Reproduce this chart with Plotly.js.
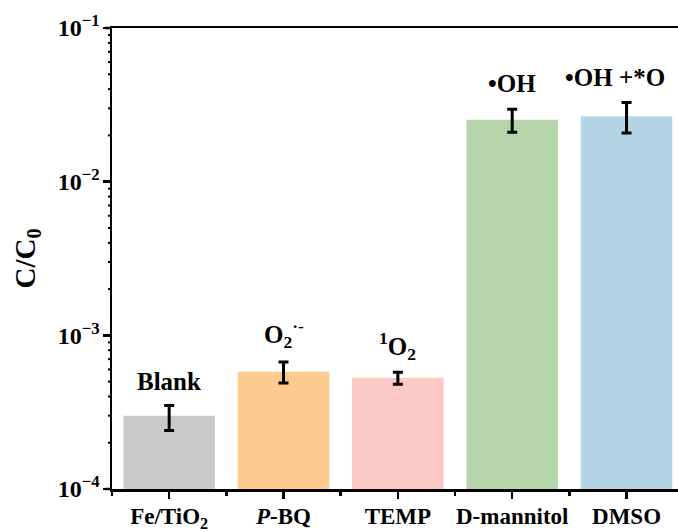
<!DOCTYPE html>
<html>
<head>
<meta charset="utf-8">
<script src="https://cdn.plot.ly/plotly-3.0.1.min.js"></script>
<style>
  html, body { margin: 0; padding: 0; background: #ffffff; }
  #chart { width: 678px; height: 532px; }
</style>
</head>
<body>
<div id="chart"></div>
<script>
// Scavenger experiments: residual C/C0 for each quencher
const categories = ['Fe/TiO<sub>2</sub>', '<i>P</i>-BQ', 'TEMP', 'D-mannitol', 'DMSO'];
const values = [3.0e-4, 5.8e-4, 5.3e-4, 0.0253, 0.0267];
const errPlus = [0.5e-4, 0.9e-4, 0.45e-4, 0.0043, 0.006];
const errMinus = [0.6e-4, 0.9e-4, 0.5e-4, 0.0043, 0.006];
const barColors = ['#c9c9c9', '#fdcb8f', '#fdc9c4', '#b4d6aa', '#b3d5e6'];
const speciesLabels = ['Blank', 'O<sub>2</sub><sup>·-</sup>', '<sup>1</sup>O<sub>2</sub>', '•OH', '•OH +*O'];
const yTickVals = [1e-4, 1e-3, 1e-2, 1e-1];
const yTickText = ['10<sup>−4</sup>', '10<sup>−3</sup>', '10<sup>−2</sup>', '10<sup>−1</sup>'];
const yLogRange = [-4, -1];

const xIdx = categories.map((_, i) => i);
const font = 'Liberation Serif, Times New Roman, serif';

// minor log positions 2..9 inside each decade
const minorVals = [];
for (let d = yLogRange[0]; d < yLogRange[1]; d++) {
  for (let m = 2; m <= 9; m++) minorVals.push(m * Math.pow(10, d));
}

const bars = {
  type: 'bar',
  x: xIdx,
  y: values,
  width: 0.8,
  marker: { color: barColors, line: { width: 0 } },
  error_y: {
    type: 'data',
    symmetric: false,
    array: errPlus,
    arrayminus: errMinus,
    color: '#000000',
    thickness: 3,
    width: 5
  },
  hoverinfo: 'none'
};

// species labels sit just above each error bar
const labelShift = [8, 8, 6, 10, 10];
const annotations = speciesLabels.map((t, i) => ({
  x: i + (i === 4 ? -0.1 : 0),
  y: Math.log10(values[i] + errPlus[i]),
  xref: 'x', yref: 'y',
  text: '<b>' + t + '</b>',
  showarrow: false,
  yanchor: 'bottom',
  yshift: labelShift[i],
  font: { family: font, size: 25, color: '#000000' }
}));

// outward tick marks on the left spine: value -> fraction of the log axis
function axisFrac(v) {
  return (Math.log10(v) - yLogRange[0]) / (yLogRange[1] - yLogRange[0]);
}
function spineTick(v, len, w) {
  const f = axisFrac(v);
  return {
    type: 'line',
    xref: 'paper', xsizemode: 'pixel', xanchor: 0,
    x0: -len, x1: 0,
    yref: 'paper', y0: f, y1: f,
    line: { color: '#000000', width: w }
  };
}
const shapes = yTickVals.map(v => spineTick(v, 7, 2.5))
  .concat(minorVals.map(v => spineTick(v, 4, 2)));

const layout = {
  width: 678,
  height: 532,
  margin: { l: 112, r: 0, t: 28, b: 43 },
  paper_bgcolor: '#ffffff',
  plot_bgcolor: '#ffffff',
  showlegend: false,
  font: { family: font, color: '#000000' },
  xaxis: {
    type: 'linear',
    range: [-0.5, 4.45],
    tickmode: 'array',
    tickvals: xIdx,
    ticktext: categories.map(c => '<b>' + c + '</b>'),
    tickfont: { family: font, size: 23, color: '#000000' },
    ticklabelstandoff: -2,
    ticks: 'outside',
    ticklen: 7,
    tickwidth: 2.5,
    tickcolor: '#000000',
    showline: true,
    linewidth: 2.5,
    linecolor: '#000000',
    mirror: true,
    showgrid: false,
    zeroline: false,
    minor: { tickmode: 'linear', tick0: -0.5, dtick: 1, ticks: 'outside', ticklen: 4, tickwidth: 2.5, tickcolor: '#000000', showgrid: false }
  },
  yaxis: {
    type: 'log',
    range: yLogRange,
    tickmode: 'array',
    tickvals: yTickVals,
    ticktext: yTickText.map(t => '<b>' + t + '</b>'),
    tickfont: { family: font, size: 24, color: '#000000' },
    ticklabelstandoff: -2,
    ticks: 'outside',
    ticklen: 7,
    tickwidth: 2.5,
    tickcolor: '#000000',
    showline: true,
    linewidth: 2.5,
    linecolor: '#000000',
    showgrid: false,
    zeroline: false,
    title: { text: '<b>C/C<sub>0</sub></b>', font: { family: font, size: 29, color: '#000000' }, standoff: 14 }
  },
  shapes: shapes,
  annotations: annotations
};

Plotly.newPlot('chart', [bars], layout, { displayModeBar: false, staticPlot: true });
</script>
</body>
</html>
